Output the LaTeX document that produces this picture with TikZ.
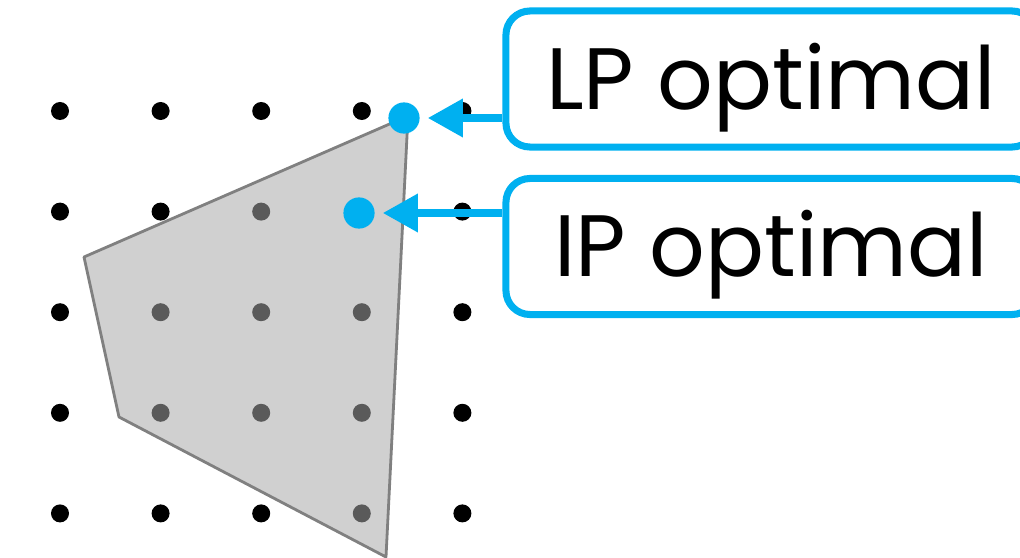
\documentclass[tikz,border=0pt]{standalone}
\usepackage{fontspec}
\setmainfont{Poppins}
\usetikzlibrary{arrows.meta}

\definecolor{optblue}{HTML}{00B0F0}
\pgfdeclarelayer{front}
\pgfsetlayers{main,front}

\begin{document}
\begin{tikzpicture}[
  x=0.025cm, y=-0.025cm,
  lattice/.style   = {circle, fill=black, inner sep=0pt, minimum size=0.45cm},
  region/.style    = {fill=black!34, fill opacity=0.54, draw=black!50,
                      line width=2pt, line join=round},
  optdot/.style    = {circle, fill=optblue, inner sep=0pt, minimum size=0.78cm},
  callout/.style   = {draw=optblue, line width=5pt, fill=white, rounded corners=0.6cm,
                      minimum width=13.25cm, minimum height=3.4cm, inner sep=0pt,
                      text height=1.5cm, text depth=0pt,
                      font=\fontsize{62}{70}\selectfont},
  pointer/.style   = {optblue, line width=5pt, shorten >=0.2cm,
                      -{Triangle[length=0.875cm,width=0.925cm]}},
]
  \useasboundingbox (0,0) rectangle (1020,558);

  % integer points
  \foreach \i in {0,...,4}
    \foreach \j in {0,...,4}
      \node[lattice] (p\i\j) at ({60+100.6*\i},{111+100.6*\j}) {};

  % feasible region of the relaxation
  \coordinate (v1) at (84,257);
  \coordinate (v2) at (408,116);
  \coordinate (v3) at (386,557);
  \coordinate (v4) at (119,417);
  \path[region] (v1) -- (v2) -- (v3) -- (v4) -- cycle;

  \node[optdot] (lp) at (404,118) {};
  \node[optdot] (ip) at (359,213) {};

  % boxes sit on top so the arrow tails hide under them
  \begin{pgfonlayer}{front}
    \node[callout] (lpbox) at (771,79) {LP optimal};
    \node[callout] (ipbox) at (771,246.5) {IP optimal};
  \end{pgfonlayer}

  \draw[pointer] (lpbox.west |- lp) -- (lp);
  \draw[pointer] (ipbox.west |- ip) -- (ip);
\end{tikzpicture}
\end{document}
